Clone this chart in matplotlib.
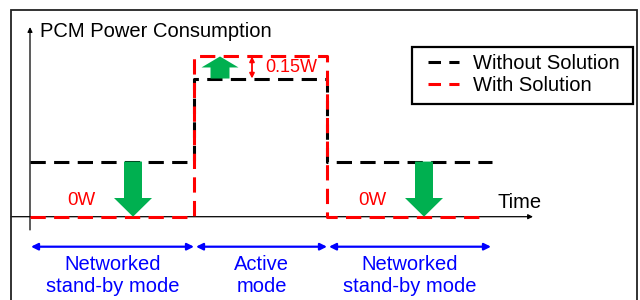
import matplotlib
matplotlib.use("Agg")
import matplotlib.pyplot as plt
from matplotlib.patches import Polygon, Rectangle
from matplotlib.lines import Line2D

plt.rcParams['font.family'] = ['Liberation Sans', 'DejaVu Sans']
plt.rcParams['lines.scale_dashes'] = False

# ---- data (time in arbitrary units, power in W) ----
time_without = [0, 164, 164, 297, 297, 462]
power_without = [0.375, 0.375, 0.94, 0.94, 0.375, 0.375]
time_with = [0, 164, 164, 297, 297, 449]
power_with = [0.0, 0.0, 1.09, 1.09, 0.0, 0.0]
mode_bounds = [0, 165, 298, 462]
mode_labels = ["Networked\nstand-by mode", "Active\nmode", "Networked\nstand-by mode"]
series_labels = ["Without Solution", "With Solution"]
saving_labels = ["0W", "0.15W", "0W"]
reduce_arrow_t = [103, 394]
increase_arrow_t = 190
delta_arrow_t = 222

RED = '#FF0000'
GREEN = '#00B050'
BLUE = '#0000FF'
FS = 14.5

fig = plt.figure(figsize=(6.4, 3.0), dpi=100)
ax = fig.add_axes([0, 0, 1, 1])
ax.set_xlim(-30, 610)
ax.set_ylim((216.7 - 300) / 147, 216.7 / 147)
ax.axis('off')

# outer frame
fig.patches.append(Rectangle((11 / 640, -0.05), (636.7 - 11) / 640, 1.05 - 10 / 300,
                             transform=fig.transFigure, fill=False,
                             edgecolor='#222222', lw=1.3))

# axes arrows
ax.annotate('', xy=(0, 1.29), xytext=(0, -0.09),
            arrowprops=dict(arrowstyle='-|>', color='black', lw=0.9,
                            mutation_scale=7, shrinkA=0, shrinkB=0))
ax.annotate('', xy=(503, 0), xytext=(-19, 0),
            arrowprops=dict(arrowstyle='-|>', color='black', lw=0.9,
                            mutation_scale=7, shrinkA=0, shrinkB=0))
ax.text(10, 1.26, "PCM Power Consumption", fontsize=FS, va='center', ha='left')
ax.text(467, 0.1, "Time", fontsize=FS, va='center', ha='left')

dash = (0, (11, 6))
ax.plot(time_without, power_without, color='black', lw=2.2, linestyle=dash,
        label=series_labels[0], zorder=3)
ax.plot(time_with, power_with, color=RED, lw=2.2, linestyle=dash,
        label=series_labels[1], zorder=4)

# green arrows (reduction)
def varrow(xc, y0, y1, shaft_w, head_w, head_len):
    d = 1 if y1 > y0 else -1
    yb = y1 - d * head_len
    pts = [(xc - shaft_w / 2, y0), (xc + shaft_w / 2, y0), (xc + shaft_w / 2, yb),
           (xc + head_w / 2, yb), (xc, y1), (xc - head_w / 2, yb), (xc - shaft_w / 2, yb)]
    ax.add_patch(Polygon(pts, closed=True, facecolor=GREEN, edgecolor='none', zorder=5))

for t in reduce_arrow_t:
    varrow(t, power_without[0], power_with[0], 18, 38, 18.7 / 147)
varrow(increase_arrow_t, power_without[2], power_with[2], 19, 37, 11 / 147)

# 0.15W delta arrow
ax.annotate('', xy=(delta_arrow_t, power_with[2]), xytext=(delta_arrow_t, power_without[2]),
            arrowprops=dict(arrowstyle='<|-|>', color=RED, lw=1.3,
                            mutation_scale=7, shrinkA=0, shrinkB=0))
ax.text(delta_arrow_t + 13, (power_with[2] + power_without[2]) / 2, saving_labels[1],
        color=RED, fontsize=13, va='center', ha='left')
ax.text(51, 0.113, saving_labels[0], color=RED, fontsize=13.5, va='center', ha='center')
ax.text(342, 0.113, saving_labels[2], color=RED, fontsize=13.5, va='center', ha='center')

# mode arrows and labels
ya = -30 / 147
for i in range(3):
    a, b = mode_bounds[i], mode_bounds[i + 1]
    ax.annotate('', xy=(b - 1, ya), xytext=(a + 1, ya),
                arrowprops=dict(arrowstyle='<|-|>', color=BLUE, lw=1.6,
                                mutation_scale=10, shrinkA=0, shrinkB=0))
    ax.text((a + b) / 2, -0.4, mode_labels[i], color=BLUE, fontsize=FS,
            ha='center', va='center', linespacing=1.25)

# legend (frame drawn separately for asymmetric padding)
handles = [Line2D([], [], color='black', lw=2.2, linestyle=(0, (9, 6))),
           Line2D([], [], color=RED, lw=2.2, linestyle=(0, (9, 6)))]
leg = ax.legend(handles, series_labels, loc='center left',
                bbox_to_anchor=(428 / 640, 1 - 74.7 / 300),
                bbox_transform=fig.transFigure, fontsize=FS, frameon=False,
                borderaxespad=0, borderpad=0, handlelength=1.55,
                handletextpad=0.68, labelspacing=0.15)
fig.patches.append(Rectangle((411.7 / 640, 1 - 104 / 300), (633.3 - 411.7) / 640,
                             (104 - 46.7) / 300, transform=fig.transFigure,
                             fill=False, edgecolor='black', lw=1.6))

fig.savefig('out.png', dpi=100)
